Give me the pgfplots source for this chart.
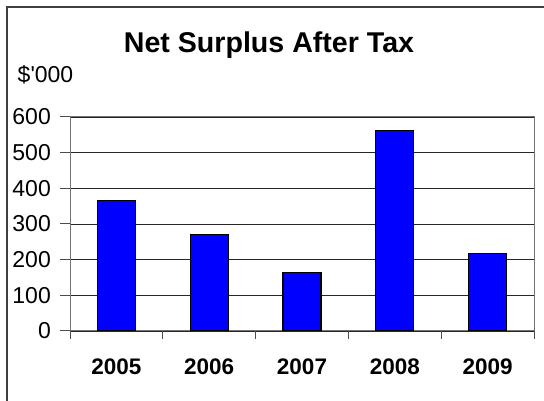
\documentclass[border=0pt]{standalone}
\usepackage{fontspec}
\setmainfont{Liberation Sans}
\newfontfamily\plainfont{Liberation Sans}[Ligatures=TeXOff]
\usepackage{pgfplots}
\pgfplotsset{compat=1.18}
\begin{document}
\begin{tikzpicture}[x=1pt,y=1pt]
\useasboundingbox (0,0) rectangle (544,401);
\draw[line width=1.2pt, black!75] (7,0) -- (7,394) -- (544,394);
\node[font=\fontsize{28.6}{32}\selectfont\bfseries] at (269,356) {Net Surplus After Tax};
\node[font=\fontsize{23}{27}\selectfont\plainfont] at (45.5,326) {\$'000};
\begin{axis}[
  at={(70pt,70pt)}, anchor=south west,
  scale only axis, width=464pt, height=214pt,
  xmin=-0.5, xmax=4.5, ymin=0, ymax=600,
  ytick={0,100,...,600},
  xtick={0,1,2,3,4},
  xticklabels={2005,2006,2007,2008,2009},
  minor xtick={-0.5,0.5,1.5,2.5,3.5,4.5},
  major x tick style={draw=none},
  minor tick length=8pt,
  major tick length=10pt,
  tick align=outside,
  xtick pos=bottom, ytick pos=left,
  ymajorgrids,
  grid style={black!85, line width=0.7pt},
  axis line style={black!55, line width=1pt},
  tick style={black!70, line width=1pt},
  /pgf/number format/assume math mode=true,
  yticklabel style={font=\fontsize{23}{27}\selectfont, inner sep=0pt, anchor=east, xshift=-9pt},
  xticklabel style={font=\fontsize{22.5}{27}\selectfont\bfseries, inner sep=0pt, anchor=north, yshift=-18pt},
  ybar, bar width=38pt,
]
\addplot[fill={rgb,255:red,0;green,0;blue,255}, draw=black, line width=1.3pt, bar shift=0pt]
  coordinates {(0,366) (1,270) (2,164) (3,563) (4,217)};
\end{axis}
\end{tikzpicture}
\end{document}
